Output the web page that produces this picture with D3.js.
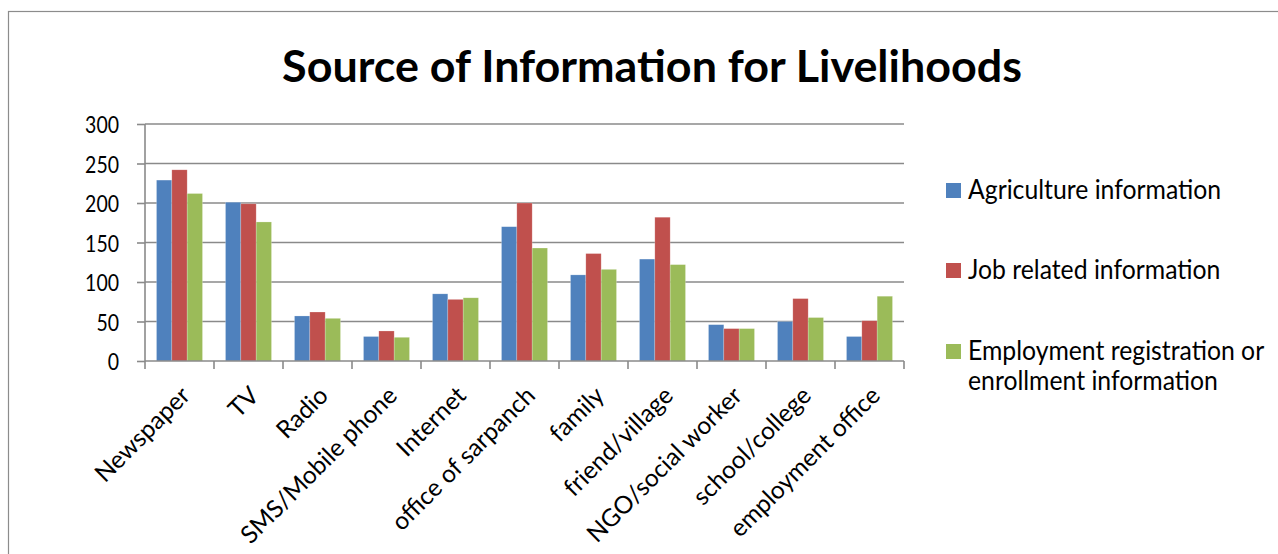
<!DOCTYPE html>
<html>
<head>
<meta charset="utf-8">
<script src="https://cdn.jsdelivr.net/npm/d3@7"></script>
<style>
  html, body { margin: 0; padding: 0; background: #fff; }
  svg { display: block; }
  text { font-family: Lato, "Noto Sans", sans-serif; fill: #000; }
</style>
</head>
<body>
<svg id="chart" width="1278" height="554"></svg>
<script>
const categories = ["Newspaper", "TV", "Radio", "SMS/Mobile phone", "Internet",
  "office of sarpanch", "family", "friend/village", "NGO/social worker",
  "school/college", "employment office"];
const seriesNames = ["Agriculture information", "Job related information",
  "Employment registration or enrollment information"];
const agriculture = [229, 201, 57, 31, 85, 170, 109, 129, 46, 50, 31];
const jobRelated  = [242, 199, 62, 38, 78, 200, 136, 182, 41, 79, 51];
const employment  = [212, 176, 54, 30, 80, 143, 116, 122, 41, 55, 82];
const yTicks = [0, 50, 100, 150, 200, 250, 300];
const colors = ["#4F81BD", "#C0504D", "#9BBB59"];
const title = "Source of Information for Livelihoods";
const legendLines = [["Agriculture information"], ["Job related information"],
  ["Employment registration or", "enrollment information"]];

const values = [agriculture, jobRelated, employment];
const svg = d3.select("#chart");
const SY = 1.18;  // vertical stretch of horizontal glyphs
const LSY = 1.08; // legend stretch

// frame
svg.append("rect").attr("x", 8.5).attr("y", 11.5).attr("width", 1300).attr("height", 600)
  .attr("fill", "#fff").attr("stroke", "#8c8c8c").attr("stroke-width", 1.2);

const plot = { left: 145, right: 904, top: 124, bottom: 361 };
const y = d3.scaleLinear().domain([0, 300]).range([plot.bottom, plot.top]);
const x0 = d3.scaleBand().domain(categories).range([plot.left, plot.right]).padding(0);
const x1 = d3.scaleBand().domain(d3.range(3)).range([0, x0.bandwidth()])
  .paddingInner(0).paddingOuter(0.75);

// gridlines
svg.append("g").selectAll("line").data(yTicks.filter(d => d > 0)).join("line")
  .attr("x1", plot.left).attr("x2", plot.right)
  .attr("y1", d => y(d)).attr("y2", d => y(d))
  .attr("stroke", "#8a8a8a").attr("stroke-width", 1.6);

// y axis
const yAxis = d3.axisLeft(y).tickValues(yTicks).tickSize(8).tickPadding(0).tickFormat(d3.format("d"));
const gy = svg.append("g").attr("transform", `translate(${plot.left},0)`).call(yAxis);
gy.select(".domain").attr("stroke", "#8a8a8a").attr("stroke-width", 1.6).attr("d", `M0,${plot.bottom}V${plot.top}`);
gy.selectAll(".tick line").attr("stroke", "#8a8a8a").attr("stroke-width", 1.6);
gy.selectAll(".tick text").attr("x", -26).attr("dy", null)
  .attr("font-size", 19.5).attr("font-family", "Lato, sans-serif")
  .attr("dominant-baseline", "central")
  .attr("transform", `scale(1,${SY})`);

// bars
const groups = svg.append("g").selectAll("g").data(categories).join("g")
  .attr("transform", d => `translate(${x0(d)},0)`);
groups.selectAll("rect").data((c, i) => values.map((s, k) => ({ k, v: s[i] }))).join("rect")
  .attr("x", d => x1(d.k)).attr("width", x1.bandwidth())
  .attr("y", d => y(d.v)).attr("height", d => y(0) - y(d.v))
  .attr("fill", d => colors[d.k])
  .attr("stroke", "rgba(255,255,255,0.35)").attr("stroke-width", 0.6);

// x axis
const xAxis = d3.axisBottom(x0).tickSize(0).tickFormat("");
const gx = svg.append("g").attr("transform", `translate(0,${plot.bottom})`).call(xAxis);
gx.select(".domain").attr("stroke", "#8a8a8a").attr("stroke-width", 1.6).attr("d", `M${plot.left},0H${plot.right}`);
gx.append("g").selectAll("line").data(d3.range(categories.length + 1)).join("line")
  .attr("x1", i => plot.left + i * x0.step()).attr("x2", i => plot.left + i * x0.step())
  .attr("y1", 0).attr("y2", 8).attr("stroke", "#8a8a8a").attr("stroke-width", 1.6);
// category labels
svg.append("g").selectAll("text").data(categories).join("text")
  .attr("transform", d => `translate(${x0(d) + x0.bandwidth() / 2 + 6},${plot.bottom + 30}) rotate(-45)`)
  .attr("text-anchor", "end").attr("dy", "0.35em")
  .attr("font-size", 24.5)
  .text(d => d);

// title
const tt = svg.append("text").attr("font-weight", "bold").attr("font-size", 40)
  .attr("text-anchor", "middle").text(title);
const tw = tt.node().getComputedTextLength();
const tfs = 40 * 740 / tw;
tt.attr("font-size", tfs).attr("transform", `translate(652,82) scale(1,${32 / (0.72 * tfs)})`);

// legend
const legY = [191, 271, 352];
const items = svg.append("g").selectAll("g").data(seriesNames).join("g")
  .attr("transform", (d, i) => `translate(946,${legY[i]})`);
items.append("rect").attr("x", 0).attr("y", -8).attr("width", 15).attr("height", 15)
  .attr("fill", (d, i) => colors[i]);
const ltexts = items.selectAll("text").data((d, i) => legendLines[i]).join("text")
  .attr("font-size", 22)
  .attr("transform", (d, j) => `translate(22,${8 + j * 30}) scale(1,${LSY})`)
  .text(d => d);
const lw = ltexts.filter(d => d === legendLines[0][0]).node().getComputedTextLength();
ltexts.attr("font-size", 22 * 253 / lw);
</script>
</body>
</html>
